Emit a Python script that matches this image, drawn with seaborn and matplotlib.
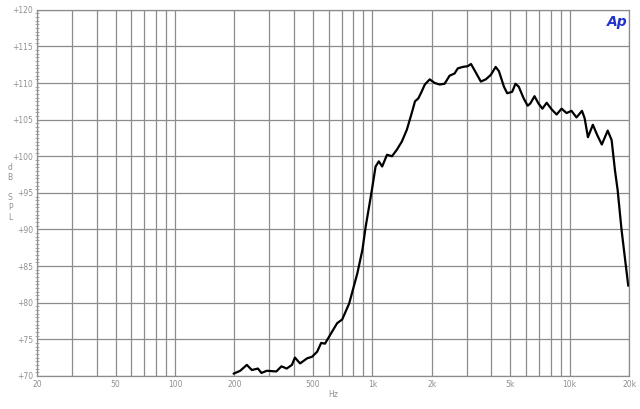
import numpy as np
import pandas as pd
import matplotlib.pyplot as plt
import matplotlib.ticker as mticker
import seaborn as sns

# frequency response (Hz, dB SPL)
freq = [198, 214, 231, 245, 263, 274, 292, 326, 346, 368, 391, 405, 430, 467, 494,
        525, 550, 575, 611, 663, 703, 763, 839, 890, 925, 962, 997, 1038, 1078,
        1121, 1186, 1257, 1331, 1410, 1494, 1583, 1644, 1709, 1775, 1844, 1953,
        2070, 2193, 2323, 2461, 2608, 2709, 2871, 3042, 3161, 3285, 3545, 3755,
        3979, 4216, 4380, 4641, 4822, 5110, 5309, 5516, 5844, 6122, 6313, 6631,
        6945, 7273, 7643, 8100, 8582, 9095, 9635, 10210, 10820, 11540, 11900,
        12370, 13100, 13780, 14540, 15580, 16310, 16950, 17490, 18300, 19100, 19800]
spl = [70.3, 70.7, 71.5, 70.8, 71.0, 70.4, 70.7, 70.6, 71.3, 71.0, 71.5, 72.5,
       71.7, 72.4, 72.6, 73.3, 74.5, 74.4, 75.6, 77.2, 77.7, 79.9, 84.0, 87.2,
       90.4, 93.1, 95.6, 98.6, 99.3, 98.6, 100.2, 100.0, 100.9, 102.0, 103.6,
       105.9, 107.5, 107.9, 108.8, 109.8, 110.5, 110.0, 109.8, 109.9, 111.0,
       111.3, 112.0, 112.2, 112.3, 112.6, 111.8, 110.2, 110.5, 111.1, 112.2,
       111.6, 109.5, 108.6, 108.8, 109.9, 109.5, 107.9, 106.9, 107.2, 108.2,
       107.2, 106.5, 107.3, 106.4, 105.7, 106.5, 105.9, 106.2, 105.3, 106.2,
       105.2, 102.6, 104.3, 102.9, 101.6, 103.5, 102.2, 98.1, 95.4, 90.0, 85.8, 82.3]

xticks = [20, 50, 100, 200, 500, 1000, 2000, 5000, 10000, 20000]
xticklabels = ['20', '50', '100', '200', '500', '1k', '2k', '5k', '10k', '20k']
yticks = [70, 75, 80, 85, 90, 95, 100, 105, 110, 115, 120]
yticklabels = ['+%d' % v for v in yticks]

df = pd.DataFrame({'Hz': freq, 'dB': spl})

sns.set_style('white')
fig = plt.figure(figsize=(6.4, 4.09), dpi=100)
ax = fig.add_axes([0.058, 0.081, 0.925, 0.895])

sns.lineplot(data=df, x='Hz', y='dB', ax=ax, color='black', linewidth=1.6)

ax.set_xscale('log')
ax.set_xlim(20, 20000)
ax.set_ylim(70, 120)

# vertical grid at every 1-2-3..9 step
grid_x = [m * 10 ** e for e in range(1, 5) for m in range(1, 10) if 20 <= m * 10 ** e <= 20000]
for gx in grid_x:
    ax.axvline(gx, color='#8c8c8c', linewidth=0.9, zorder=0)
for gy in yticks:
    ax.axhline(gy, color='#8c8c8c', linewidth=0.9, zorder=0)

ax.xaxis.set_major_locator(mticker.FixedLocator(xticks))
ax.xaxis.set_minor_locator(mticker.NullLocator())
ax.set_xticklabels(xticklabels)
ax.set_yticks(yticks)
ax.set_yticklabels(yticklabels)
ax.yaxis.set_minor_locator(mticker.MultipleLocator(0.5))
ax.tick_params(axis='x', length=0, labelsize=5.5, labelcolor='#909090', pad=3)
ax.tick_params(axis='y', which='major', length=4, direction='inout', color='#909090',
               labelsize=5.5, labelcolor='#909090', pad=1)
ax.tick_params(axis='y', which='minor', length=3, direction='inout', color='#a0a0a0', left=True)

for s in ax.spines.values():
    s.set_color('#8c8c8c')
    s.set_linewidth(0.9)

ax.set_xlabel('Hz', fontsize=5.5, color='#909090', labelpad=1)
ax.set_ylabel('')
fig.text(0.016, 0.53, 'd\nB\n\nS\nP\nL', fontsize=5.5, color='#909090',
         ha='center', va='center', linespacing=1.15)

ax.text(0.998, 0.985, 'Ap', transform=ax.transAxes, ha='right', va='top',
        fontsize=10, fontweight='bold', fontstyle='italic', color='#2233cc')

fig.savefig('out.png', dpi=100)
